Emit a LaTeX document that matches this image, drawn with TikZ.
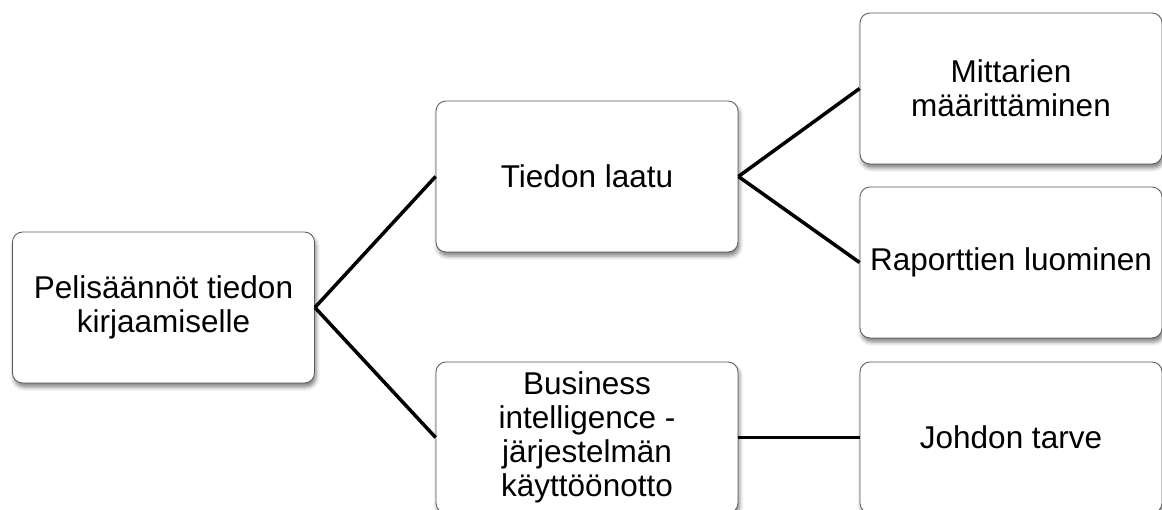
\documentclass[tikz,border=0pt]{standalone}
\usepackage{fontspec}
\setmainfont{Liberation Sans}
\usetikzlibrary{shadows.blur}
\begin{document}
\begin{tikzpicture}[x=1pt,y=-1pt,
  item/.style={draw=black!65, line width=0.8pt, fill=white, rounded corners=10pt,
    minimum width=302pt, minimum height=151pt, align=center, inner sep=0pt,
    font=\fontsize{31.5}{34}\selectfont,
    blur shadow={shadow xshift=1.5pt, shadow yshift=-4pt, shadow blur radius=4pt, shadow opacity=50}},
  link/.style={line width=3.5pt, black}]
\useasboundingbox (0,0) rectangle (1162,510);
\clip (0,0) rectangle (1162,510);
% left root
\node[item] (root) at (163.5,307.5) {Pelisäännöt tiedon\\kirjaamiselle};
% middle column
\node[item] (quality) at (587,176.5) {Tiedon laatu};
\node[item] (bi) at (587,437.5) {Business\\intelligence -\\järjestelmän\\käyttöönotto};
% right column
\node[item] (metrics) at (1011,88.5) {Mittarien\\määrittäminen};
\node[item] (reports) at (1011,262.5) {Raporttien luominen};
\node[item] (mgmt) at (1011,437.5) {Johdon tarve};
% connectors
\draw[link] (root.east) -- (quality.west);
\draw[link] (root.east) -- (bi.west);
\draw[link] (quality.east) -- (metrics.west);
\draw[link] (quality.east) -- (reports.west);
\draw[link] (bi.east) -- (mgmt.west);
\end{tikzpicture}
\end{document}
